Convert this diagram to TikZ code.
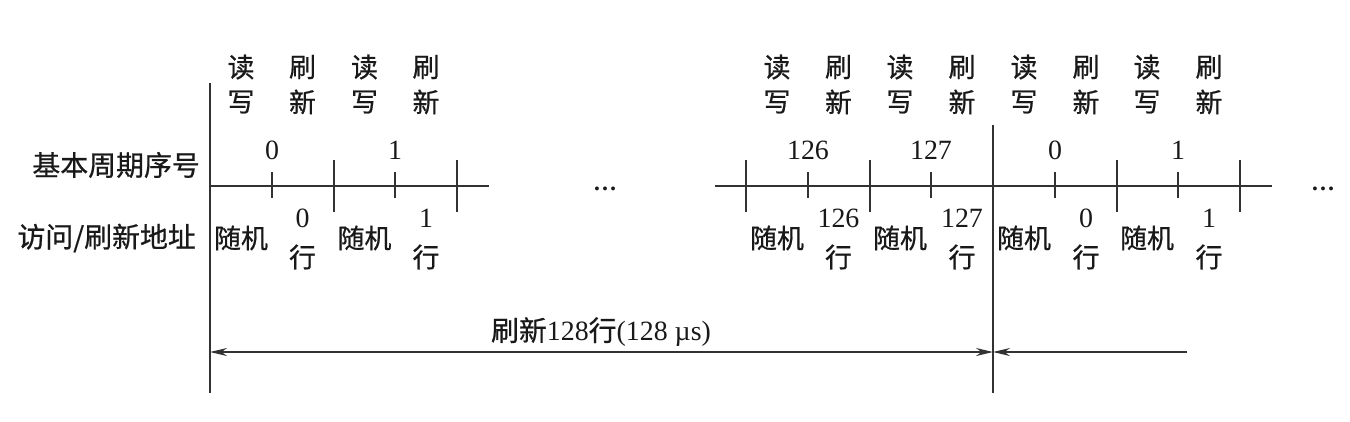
\documentclass[tikz,border=0pt]{standalone}
\usepackage{fontspec}
\setmainfont{Liberation Serif}
\newfontfamily\cjk[FakeBold=0.7]{Noto Sans CJK SC}
\usetikzlibrary{arrows.meta}
\definecolor{ln}{RGB}{50,50,50}
\begin{document}
\begin{tikzpicture}[x=1bp,y=-1bp,
  every node/.style={inner sep=0pt, text=black!90, font=\fontsize{28}{30}\selectfont},
  ln/.style={draw=ln, line width=2bp},
  cj/.style={font=\fontsize{27}{30}\selectfont\cjk},
  cjl/.style={font=\fontsize{28}{30}\selectfont\cjk, anchor=east},
  dbl/.style={ln, {Stealth[length=17bp,width=8bp]}-{Stealth[length=17bp,width=8bp]}},
  sgl/.style={ln, -{Stealth[length=17bp,width=8bp]}}]
\useasboundingbox (0,0) rectangle (1350,421);
% vertical separators
\coordinate (vA1) at (210,83);  \coordinate (vA2) at (210,393);
\coordinate (vB1) at (993,125); \coordinate (vB2) at (993,393);
\draw[ln] (vA1) -- (vA2);
\draw[ln] (vB1) -- (vB2);
% time axes
\coordinate (axA1) at (210,186); \coordinate (axA2) at (489,186);
\coordinate (axB1) at (715,186); \coordinate (axB2) at (1272,186);
\draw[ln] (axA1) -- (axA2);
\draw[ln] (axB1) -- (axB2);
% long ticks
\foreach \x in {333.5,457,746,869.5,1116.5,1240}
  \draw[ln] (\x,160) -- (\x,212);
% short ticks
\foreach \x in {271.75,395.25,807.75,931.25,1054.75,1178.25}
  \draw[ln] (\x,172) -- (\x,198);
% top labels
\foreach \x/\a/\b [count=\i] in {241/读/写,302.5/刷/新,364.5/读/写,426/刷/新,
   777/读/写,838.5/刷/新,900/读/写,962/刷/新,1024/读/写,1086/刷/新,1147/读/写,1209/刷/新}{
  \node[cj] (t\i a) at (\x,67) {\a};
  \node[cj] (t\i b) at (\x,102) {\b};
}
% period numbers
\foreach \x/\n [count=\i] in {272/0,395/1,808/126,931/127,1055/0,1178/1}
  \node (n\i) at (\x,150) {\n};
% bottom labels
\foreach \x/\y/\n [count=\i] in {241/302.5/0,364.5/426/1,777/838.5/126,900/962/127,1024/1086/0,1147/1209/1}{
  \node[cj] (r\i) at (\x,238) {随机};
  \node (rn\i) at (\y,218) {\n};
  \node[cj] (rh\i) at (\y,257) {行};
}
% row titles
\node[cjl] (lab1) at (200,165) {基本周期序号};
\node[cjl] (lab2) at (196,238) {访问/刷新地址};
% ellipses
\node[anchor=base, font=\fontsize{24}{30}\selectfont\bfseries] (d1) at (605,190) {…};
\node[anchor=base, font=\fontsize{24}{30}\selectfont\bfseries] (d2) at (1323,190) {…};
% arrows
\coordinate (a1) at (210,352);
\coordinate (a2) at (993,352);
\coordinate (a3) at (1187,352);
\draw[dbl] (a1) -- (a2);
\draw[sgl] (a3) -- (a2);
\node (cap) at (601,332) {{\cjk 刷新}128{\cjk 行}(128 µs)};
\end{tikzpicture}
\end{document}
